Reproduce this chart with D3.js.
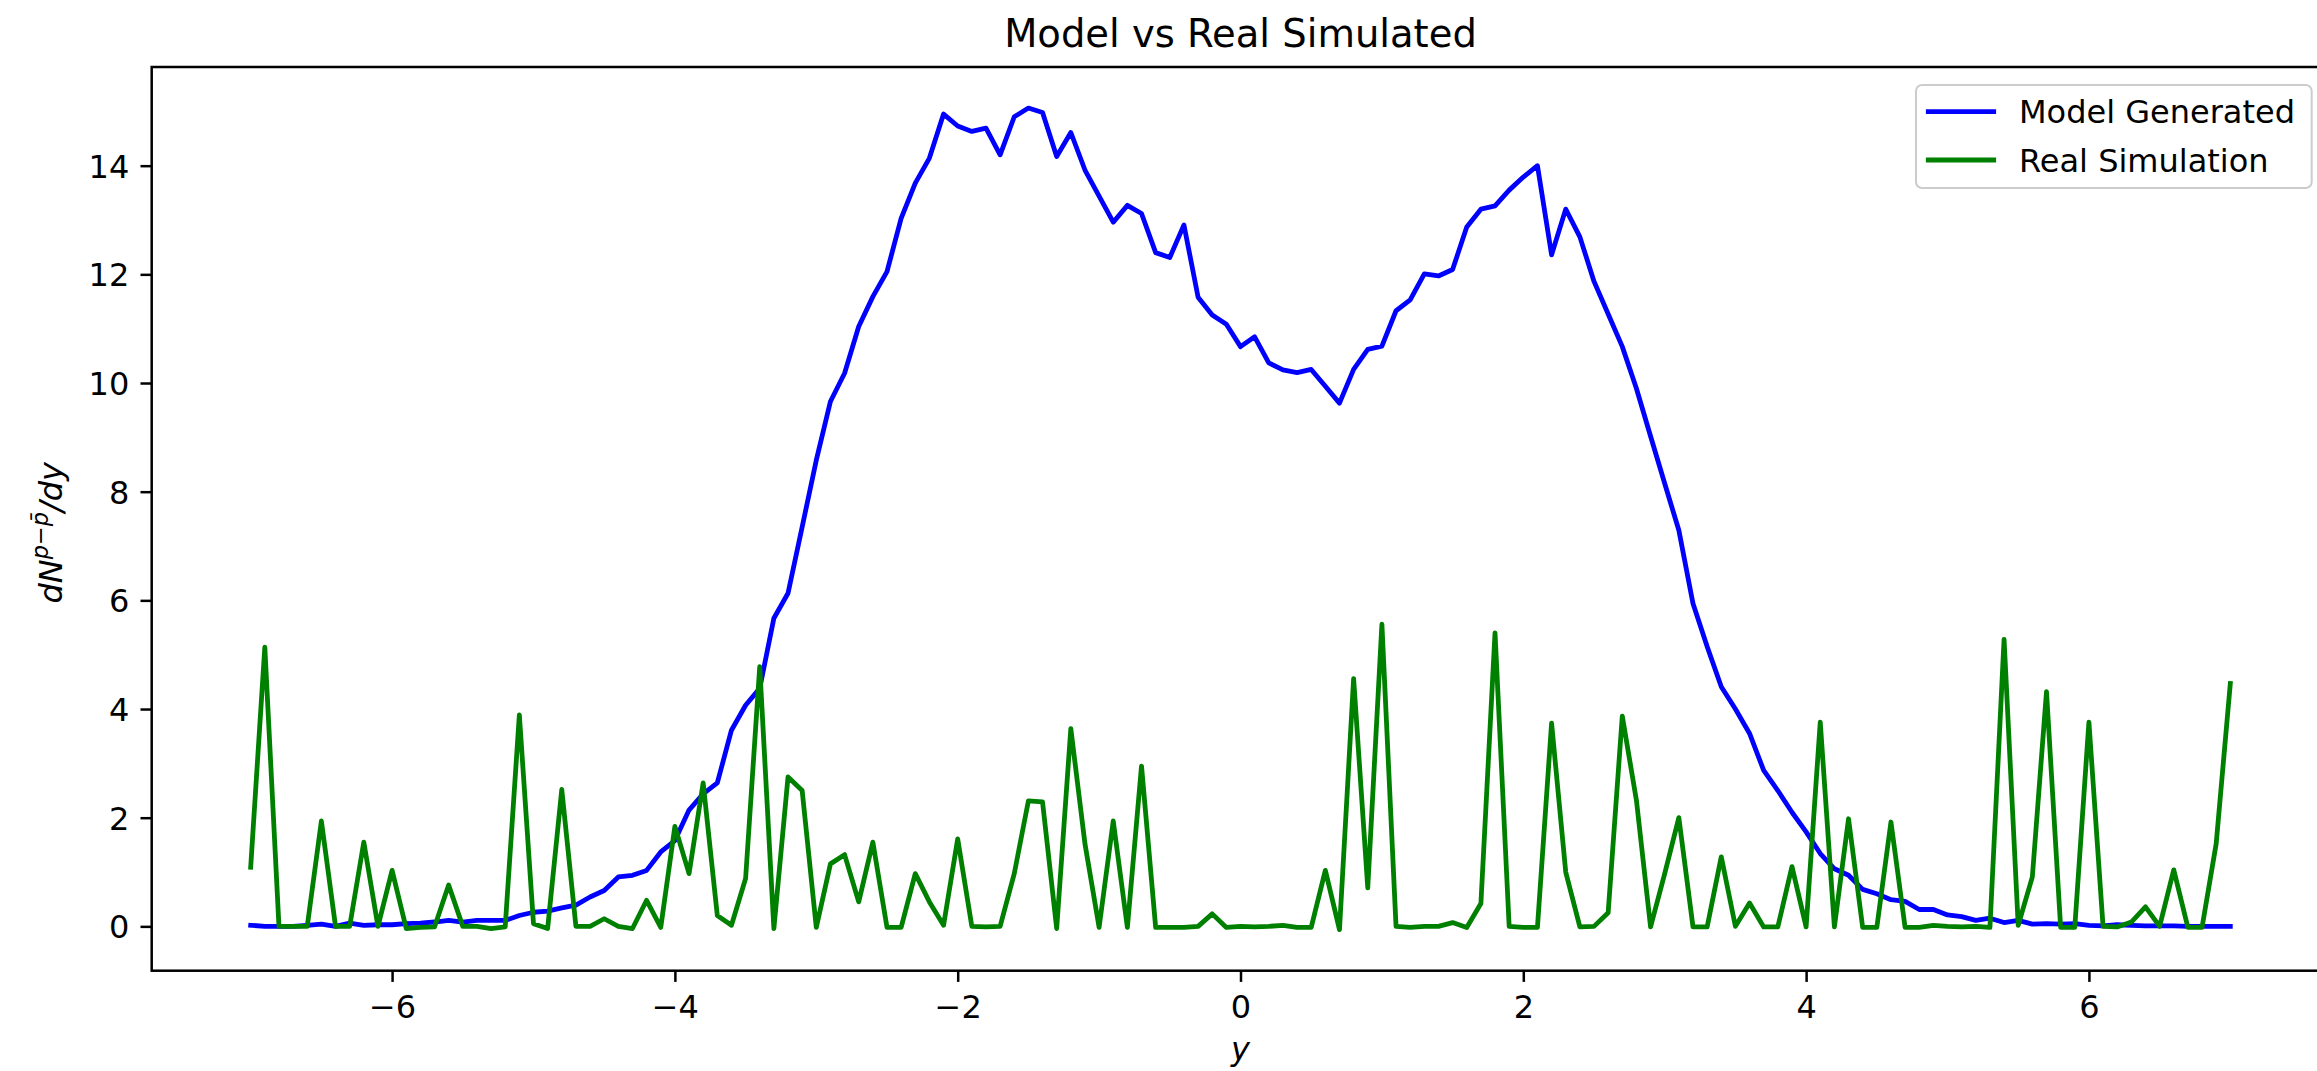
<!DOCTYPE html>
<html><head><meta charset="utf-8">
<script src="https://cdn.jsdelivr.net/npm/d3@7"></script>
<style>
body{margin:0;background:#fff;}
svg{display:block;font-family:"DejaVu Sans",sans-serif;}
</style>
</head><body>
<script>
// ---- data ----
const titleText = "Model vs Real Simulated";
const seriesNames = ["Model Generated", "Real Simulation"];
const seriesColors = ["#0000ff", "#008000"];
const xTicks = [-6, -4, -2, 0, 2, 4, 6];
const yTicks = [0, 2, 4, 6, 8, 10, 12, 14];
// rapidity grid -7 .. 7 in steps of 0.1 (141 points)
const rapidity = d3.range(141).map(i => Math.round((-7 + i * 0.1) * 10) / 10);

const modelGenerated = [
 0.02,0,0,0,0.02,0.04,0,0.06,0.02,0.03,0.03,0.05,0.06,0.08,0.11,0.08,0.11,0.11,0.11,0.2,
 0.26,0.28,0.34,0.39,0.54,0.66,0.91,0.94,1.03,1.37,1.58,2.14,2.44,2.64,3.61,4.07,4.38,
 5.67,6.13,7.35,8.58,9.66,10.18,11.04,11.59,12.05,13.03,13.68,14.14,14.95,14.73,14.63,14.69,
 14.2,14.9,15.06,14.98,14.17,14.61,13.92,13.44,12.96,13.27,13.12,12.4,12.31,12.91,11.58,
 11.25,11.08,10.67,10.85,10.37,10.24,
 10.19,10.25,9.94,9.63,10.25,10.62,10.68,11.33,11.53,12.01,11.97,12.09,12.87,13.2,13.26,
 13.55,13.79,14.0,12.36,13.2,12.69,11.87,11.27,10.67,9.9,9.02,8.15,7.29,5.94,5.15,4.41,
 4.0,3.55,2.87,2.5,2.1,
 1.74,1.34,1.06,0.94,0.68,0.6,0.49,0.46,0.31,0.31,0.21,0.18,0.11,0.15,0.07,0.11,0.04,0.05,
 0.04,0.05,0.02,0.01,0.03,0.02,0.01,0.01,0.01,0,0,0,0
];

const realSimulation = [
 1.09,5.14,0,0,0,1.94,0,0,1.55,0,1.03,-0.04,-0.02,-0.01,0.76,0,0,-0.04,-0.01,3.89,0.05,
 -0.04,2.52,0,0,0.14,0,-0.04,0.48,-0.02,1.84,0.97,2.64,0.2,0.02,0.88,4.78,
 -0.04,2.75,2.5,-0.02,1.15,1.32,0.45,1.55,-0.02,-0.02,0.97,0.45,0.02,1.61,0,-0.01,0,0.97,
 2.31,2.29,-0.04,3.64,1.52,-0.02,1.94,-0.02,2.95,-0.02,-0.02,-0.02,0,0.23,-0.02,0,-0.01,0,0.02,
 -0.02,-0.02,1.03,-0.06,4.56,0.71,5.56,0,-0.02,0,0,0.07,-0.02,0.42,5.4,0,-0.02,-0.02,3.74,
 1.0,-0.01,0,0.25,3.87,2.32,-0.01,0.97,2.0,-0.01,-0.01,1.28,0,0.43,-0.01,-0.01,1.1,
 -0.01,3.76,-0.01,1.98,-0.02,-0.02,1.92,-0.02,-0.02,0.02,0,-0.01,0,-0.02,5.28,0.02,0.91,
 4.32,-0.02,-0.02,3.76,0,-0.01,0.08,0.36,0,1.04,-0.02,-0.02,1.52,4.47
];

// ---- layout ----
const W = 2317, H = 1071;
const axL = 151.7, axR = 2329.3, axT = 67, axB = 970.7;
const fs = 32, titleFs = 38.5, tickLen = 11.2, tickPad = 11.2, lw = 4.8, spineW = 2.5;

const svg = d3.select("body").append("svg").attr("width", W).attr("height", H);
svg.append("rect").attr("width", W).attr("height", H).attr("fill", "#fff");

const xMin = d3.min(rapidity), xMax = d3.max(rapidity);
const xm = (xMax - xMin) * 0.05;
const allY = modelGenerated.concat(realSimulation);
const yMin = d3.min(allY), yMax = d3.max(allY);
const ym = (yMax - yMin) * 0.05;

const x = d3.scaleLinear().domain([xMin - xm, xMax + xm]).range([axL, axR]);
const y = d3.scaleLinear().domain([yMin - ym, yMax + ym]).range([axB, axT]);

svg.append("defs").append("clipPath").attr("id", "clip")
  .append("rect").attr("x", axL).attr("y", axT).attr("width", axR - axL).attr("height", axB - axT);

const fmt = d => d < 0 ? "\u2212" + Math.abs(d) : String(d);

// lines
const series = [modelGenerated, realSimulation];
const line = d3.line().x((d, i) => x(rapidity[i])).y(d => y(d));
const gLines = svg.append("g").attr("clip-path", "url(#clip)");
series.forEach((s, k) => {
  gLines.append("path").datum(s).attr("d", line)
    .attr("fill", "none").attr("stroke", seriesColors[k]).attr("stroke-width", lw)
    .attr("stroke-linejoin", "round").attr("stroke-linecap", "square");
});

// axes
const gx = svg.append("g").attr("transform", `translate(0,${axB})`)
  .call(d3.axisBottom(x).tickValues(xTicks).tickSize(tickLen).tickPadding(tickPad).tickFormat(fmt));
const gy = svg.append("g").attr("transform", `translate(${axL},0)`)
  .call(d3.axisLeft(y).tickValues(yTicks).tickSize(tickLen).tickPadding(tickPad).tickFormat(fmt));
[gx, gy].forEach(g => {
  g.select(".domain").remove();
  g.selectAll(".tick line").attr("stroke", "#000").attr("stroke-width", spineW);
  g.selectAll(".tick text").attr("fill", "#000").attr("font-size", fs)
    .attr("font-family", "DejaVu Sans");
});
gx.selectAll(".tick text").attr("dy", null).attr("y", tickLen + tickPad).attr("dominant-baseline", "hanging")
  .attr("transform", "translate(0,1)");
gy.selectAll(".tick text").attr("dy", "0.36em");

// spines
svg.append("rect").attr("x", axL).attr("y", axT).attr("width", axR - axL).attr("height", axB - axT)
  .attr("fill", "none").attr("stroke", "#000").attr("stroke-width", spineW);

// title
svg.append("text").attr("x", (axL + axR) / 2).attr("y", 47).attr("text-anchor", "middle")
  .attr("font-size", titleFs).attr("fill", "#000").text(titleText);

// x label
svg.append("text").attr("x", (axL + axR) / 2).attr("y", 1060).attr("text-anchor", "middle")
  .attr("font-size", fs).attr("font-style", "italic").attr("fill", "#000").text("y");

// y label  dN^{p - p̄}/dy
const yl = svg.append("text").attr("transform", `translate(62,${(axT + axB) / 2 + 14}) rotate(-90)`)
  .attr("text-anchor", "middle").attr("font-size", fs).attr("fill", "#000");
yl.append("tspan").attr("font-style", "italic").text("dN");
yl.append("tspan").attr("font-size", fs * 0.7).attr("dy", -fs * 0.45)
  .attr("font-style", "italic").text("p");
yl.append("tspan").attr("font-size", fs * 0.7).text("\u2212");
yl.append("tspan").attr("font-size", fs * 0.7).attr("font-style", "italic").text("p\u0304");
yl.append("tspan").attr("dy", fs * 0.45).attr("font-style", "italic").text("/dy");

// legend
const lg = svg.append("g");
lg.append("rect").attr("x", 1916).attr("y", 85).attr("width", 395.7).attr("height", 103)
  .attr("rx", 6).attr("fill", "#fff").attr("fill-opacity", 0.8)
  .attr("stroke", "#cccccc").attr("stroke-width", 2);
seriesNames.forEach((name, k) => {
  const cy = 111.7 + k * 48.3;
  lg.append("line").attr("x1", 1928.3).attr("x2", 1993.7).attr("y1", cy).attr("y2", cy)
    .attr("stroke", seriesColors[k]).attr("stroke-width", lw).attr("stroke-linecap", "square");
  lg.append("text").attr("x", 2019).attr("y", cy + 11.5).attr("font-size", fs)
    .attr("fill", "#000").text(name);
});
</script>
</body></html>
